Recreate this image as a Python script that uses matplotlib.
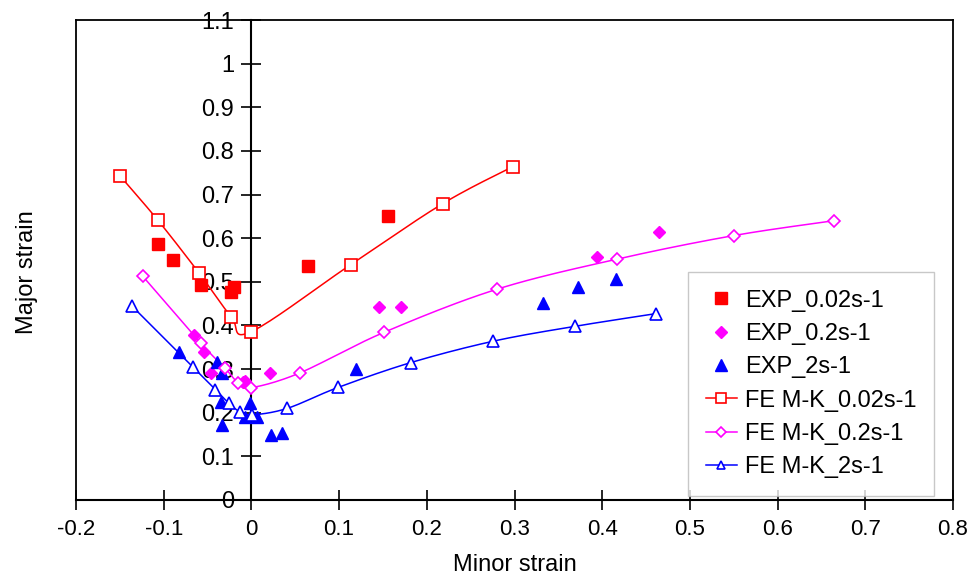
import numpy as np
import matplotlib
matplotlib.use('Agg')
import matplotlib.pyplot as plt
import matplotlib.ticker as mticker

plt.rcParams['font.family'] = ['Liberation Sans', 'DejaVu Sans']

# experimental points
exp_002_x = [-0.107, -0.089, -0.057, -0.023, -0.020, 0.064, 0.156]
exp_002_y = [0.587, 0.550, 0.493, 0.477, 0.488, 0.537, 0.651]

exp_02_x = [-0.066, -0.054, -0.046, -0.010, -0.007, 0.021, 0.146, 0.170, 0.394, 0.465]
exp_02_y = [0.378, 0.339, 0.290, 0.271, 0.273, 0.291, 0.443, 0.443, 0.557, 0.615]

exp_2_x = [-0.083, -0.039, -0.033, -0.035, -0.034, -0.002, -0.007, 0.006, 0.022, 0.035,
           0.119, 0.333, 0.372, 0.416]
exp_2_y = [0.339, 0.316, 0.290, 0.225, 0.172, 0.222, 0.190, 0.190, 0.149, 0.154,
           0.300, 0.452, 0.489, 0.507]

# FE M-K predictions
fe_002_x = [-0.150, -0.107, -0.060, -0.023, -0.001, 0.113, 0.218, 0.298]
fe_002_y = [0.743, 0.642, 0.521, 0.420, 0.385, 0.539, 0.679, 0.764]

fe_02_x = [-0.124, -0.058, -0.030, -0.015, -0.001, 0.055, 0.151, 0.280, 0.417, 0.550, 0.664]
fe_02_y = [0.513, 0.360, 0.302, 0.268, 0.257, 0.291, 0.384, 0.483, 0.552, 0.606, 0.640]

fe_2_x = [-0.136, -0.067, -0.041, -0.026, -0.013, 0.001, 0.041, 0.099, 0.182, 0.276, 0.369, 0.461]
fe_2_y = [0.444, 0.305, 0.253, 0.222, 0.202, 0.195, 0.210, 0.258, 0.315, 0.364, 0.398, 0.427]

x_ticks = [-0.2, -0.1, 0, 0.1, 0.2, 0.3, 0.4, 0.5, 0.6, 0.7, 0.8]


def smooth(x, y, n=20):
    # Catmull-Rom curve through the points (like Excel "smoothed line")
    p = np.column_stack([x, y])
    p = np.vstack([p[0], p, p[-1]])
    out = []
    t = np.linspace(0, 1, n, endpoint=False)[:, None]
    for i in range(1, len(p) - 2):
        p0, p1, p2, p3 = p[i - 1], p[i], p[i + 1], p[i + 2]
        seg = 0.5 * ((2 * p1) + (-p0 + p2) * t + (2 * p0 - 5 * p1 + 4 * p2 - p3) * t ** 2
                     + (-p0 + 3 * p1 - 3 * p2 + p3) * t ** 3)
        out.append(seg)
    out.append(p[-2][None, :])
    out = np.vstack(out)
    return out[:, 0], out[:, 1]


fig = plt.figure(figsize=(9.72, 5.8), dpi=100)
ax = fig.add_axes([0.0782, 0.138, 0.9023, 0.8275])

red, mag, blue = '#FF0000', '#FF00FF', '#0000FF'

ax.plot(exp_002_x, exp_002_y, 's', color=red, ms=8, label='EXP_0.02s-1', zorder=3)
ax.plot(exp_02_x, exp_02_y, 'D', color=mag, ms=6, label='EXP_0.2s-1', zorder=3)
ax.plot(exp_2_x, exp_2_y, '^', color=blue, ms=8.5, label='EXP_2s-1', zorder=3)

for fx, fy, c, m, ms, lab in [(fe_002_x, fe_002_y, red, 's', 8.5, 'FE M-K_0.02s-1'),
                              (fe_02_x, fe_02_y, mag, 'D', 6, 'FE M-K_0.2s-1'),
                              (fe_2_x, fe_2_y, blue, '^', 8, 'FE M-K_2s-1')]:
    sx, sy = smooth(fx, fy)
    ax.plot(sx, sy, '-', color=c, lw=1.1, zorder=2)
    ax.plot(fx, fy, m, color=c, mfc='white', mec=c, mew=1.2, ms=ms, zorder=4)
    ax.plot([], [], '-', marker=m, color=c, mfc='white', mec=c, mew=1.2, ms=ms * 0.8, lw=1.1, label=lab)

ax.set_xlim(-0.2, 0.8)
ax.set_ylim(0, 1.1)
ax.set_xticks(x_ticks)
ax.yaxis.set_major_locator(mticker.MultipleLocator(0.1))
ax.xaxis.set_major_formatter(mticker.FormatStrFormatter('%g'))
ax.yaxis.set_major_formatter(mticker.FuncFormatter(lambda v, p: '%g' % round(v, 2)))

# y axis crosses at x = 0, frame kept around the plot
ax.spines['left'].set_position(('data', 0))
ax.spines['left'].set_linewidth(1.5)
ax.spines['bottom'].set_linewidth(1.5)
for s in ['top', 'right']:
    ax.spines[s].set_linewidth(1.3)
ax.plot([0, 0], [0, 1], transform=ax.transAxes, color='black', lw=1.3, clip_on=False)

ax.tick_params(axis='both', direction='inout', length=15, width=1.2)
ax.tick_params(axis='y', pad=5, labelsize=17)
ax.tick_params(axis='x', pad=6, labelsize=16)

ax.set_xlabel('Minor strain', fontsize=17, labelpad=10)
ax.set_ylabel('Major strain', fontsize=17)
ax.yaxis.set_label_coords(-0.043, 0.475)

leg = ax.legend(loc='upper left', bbox_to_anchor=(0.698, 0.475), borderaxespad=0,
                fontsize=17, frameon=True, fancybox=False, labelspacing=0.48,
                handlelength=1.3, handletextpad=0.35, borderpad=0.75)
leg.get_frame().set_edgecolor('#BBBBBB')
leg.get_frame().set_linewidth(1.0)

fig.savefig('out.png', dpi=100)
